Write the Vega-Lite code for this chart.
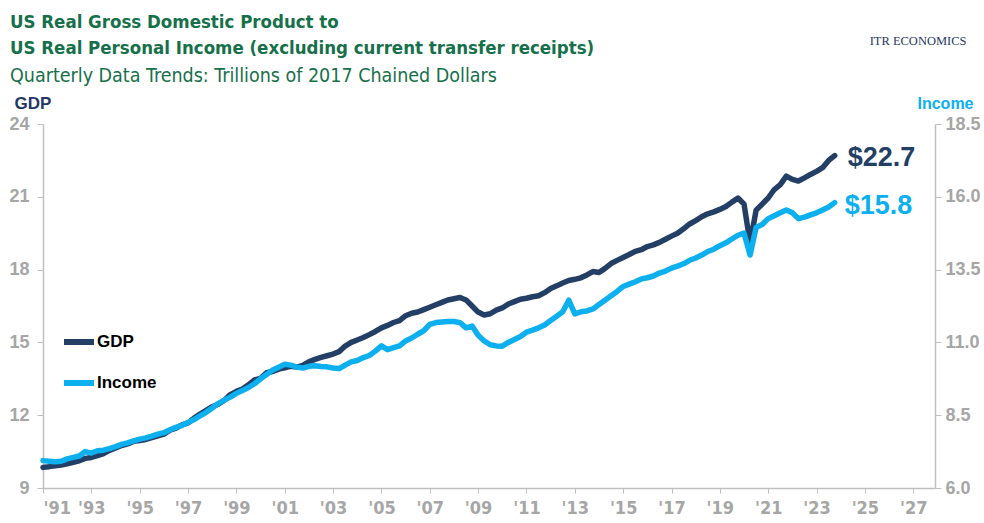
{
  "$schema": "https://vega.github.io/schema/vega-lite/v6.json",
  "width": 892,
  "height": 364,
  "autosize": "none",
  "padding": {"left": 43, "top": 124, "right": 49, "bottom": 35},
  "background": "white",
  "config": {"view": {"stroke": null}},
  "title": {
    "text": ["US Real Gross Domestic Product to", "US Real Personal Income (excluding current transfer receipts)"],
    "subtitle": "Quarterly Data Trends: Trillions of 2017 Chained Dollars",
    "anchor": "start",
    "frame": "group",
    "dx": -33,
    "offset": -50,
    "font": "Liberation Sans Narrow, DejaVu Sans Condensed, Roboto Condensed, Liberation Sans",
    "fontSize": 18.5,
    "fontWeight": "bold",
    "color": "#16704a",
    "lineHeight": 26,
    "subtitleFont": "Liberation Sans Narrow, DejaVu Sans Condensed, Roboto Condensed, Liberation Sans",
    "subtitleFontSize": 19.5,
    "subtitleFontWeight": "normal",
    "subtitleColor": "#16704a",
    "subtitlePadding": 9
  },
  "datasets": {
    "gdp": [
      {"t":1991,"s":"GDP","v":9.85},{"t":1991.25,"s":"GDP","v":9.88},{"t":1991.5,"s":"GDP","v":9.92},{"t":1991.75,"s":"GDP","v":9.95},
      {"t":1992,"s":"GDP","v":10.0},{"t":1992.25,"s":"GDP","v":10.06},{"t":1992.5,"s":"GDP","v":10.12},{"t":1992.75,"s":"GDP","v":10.22},
      {"t":1993,"s":"GDP","v":10.26},{"t":1993.25,"s":"GDP","v":10.33},{"t":1993.5,"s":"GDP","v":10.42},{"t":1993.75,"s":"GDP","v":10.55},
      {"t":1994,"s":"GDP","v":10.65},{"t":1994.25,"s":"GDP","v":10.75},{"t":1994.5,"s":"GDP","v":10.82},{"t":1994.75,"s":"GDP","v":10.92},
      {"t":1995,"s":"GDP","v":10.96},{"t":1995.25,"s":"GDP","v":11.0},{"t":1995.5,"s":"GDP","v":11.08},{"t":1995.75,"s":"GDP","v":11.15},
      {"t":1996,"s":"GDP","v":11.22},{"t":1996.25,"s":"GDP","v":11.38},{"t":1996.5,"s":"GDP","v":11.47},{"t":1996.75,"s":"GDP","v":11.6},
      {"t":1997,"s":"GDP","v":11.68},{"t":1997.25,"s":"GDP","v":11.88},{"t":1997.5,"s":"GDP","v":12.05},{"t":1997.75,"s":"GDP","v":12.2},
      {"t":1998,"s":"GDP","v":12.35},{"t":1998.25,"s":"GDP","v":12.45},{"t":1998.5,"s":"GDP","v":12.62},{"t":1998.75,"s":"GDP","v":12.85},
      {"t":1999,"s":"GDP","v":12.98},{"t":1999.25,"s":"GDP","v":13.08},{"t":1999.5,"s":"GDP","v":13.25},{"t":1999.75,"s":"GDP","v":13.45},
      {"t":2000,"s":"GDP","v":13.52},{"t":2000.25,"s":"GDP","v":13.75},{"t":2000.5,"s":"GDP","v":13.8},{"t":2000.75,"s":"GDP","v":13.9},
      {"t":2001,"s":"GDP","v":13.95},{"t":2001.25,"s":"GDP","v":14.02},{"t":2001.5,"s":"GDP","v":13.98},{"t":2001.75,"s":"GDP","v":14.05},
      {"t":2002,"s":"GDP","v":14.2},{"t":2002.25,"s":"GDP","v":14.3},{"t":2002.5,"s":"GDP","v":14.38},{"t":2002.75,"s":"GDP","v":14.45},
      {"t":2003,"s":"GDP","v":14.52},{"t":2003.25,"s":"GDP","v":14.62},{"t":2003.5,"s":"GDP","v":14.85},{"t":2003.75,"s":"GDP","v":15.0},
      {"t":2004,"s":"GDP","v":15.1},{"t":2004.25,"s":"GDP","v":15.2},{"t":2004.5,"s":"GDP","v":15.32},{"t":2004.75,"s":"GDP","v":15.45},
      {"t":2005,"s":"GDP","v":15.6},{"t":2005.25,"s":"GDP","v":15.7},{"t":2005.5,"s":"GDP","v":15.82},{"t":2005.75,"s":"GDP","v":15.9},
      {"t":2006,"s":"GDP","v":16.1},{"t":2006.25,"s":"GDP","v":16.2},{"t":2006.5,"s":"GDP","v":16.25},{"t":2006.75,"s":"GDP","v":16.35},
      {"t":2007,"s":"GDP","v":16.45},{"t":2007.25,"s":"GDP","v":16.55},{"t":2007.5,"s":"GDP","v":16.65},{"t":2007.75,"s":"GDP","v":16.75},
      {"t":2008,"s":"GDP","v":16.8},{"t":2008.25,"s":"GDP","v":16.85},{"t":2008.5,"s":"GDP","v":16.75},{"t":2008.75,"s":"GDP","v":16.5},
      {"t":2009,"s":"GDP","v":16.25},{"t":2009.25,"s":"GDP","v":16.13},{"t":2009.5,"s":"GDP","v":16.18},{"t":2009.75,"s":"GDP","v":16.33},
      {"t":2010,"s":"GDP","v":16.42},{"t":2010.25,"s":"GDP","v":16.58},{"t":2010.5,"s":"GDP","v":16.68},{"t":2010.75,"s":"GDP","v":16.78},
      {"t":2011,"s":"GDP","v":16.82},{"t":2011.25,"s":"GDP","v":16.88},{"t":2011.5,"s":"GDP","v":16.92},{"t":2011.75,"s":"GDP","v":17.05},
      {"t":2012,"s":"GDP","v":17.22},{"t":2012.25,"s":"GDP","v":17.33},{"t":2012.5,"s":"GDP","v":17.45},{"t":2012.75,"s":"GDP","v":17.55},
      {"t":2013,"s":"GDP","v":17.6},{"t":2013.25,"s":"GDP","v":17.66},{"t":2013.5,"s":"GDP","v":17.78},{"t":2013.75,"s":"GDP","v":17.92},
      {"t":2014,"s":"GDP","v":17.88},{"t":2014.25,"s":"GDP","v":18.05},{"t":2014.5,"s":"GDP","v":18.25},{"t":2014.75,"s":"GDP","v":18.38},
      {"t":2015,"s":"GDP","v":18.5},{"t":2015.25,"s":"GDP","v":18.62},{"t":2015.5,"s":"GDP","v":18.75},{"t":2015.75,"s":"GDP","v":18.82},
      {"t":2016,"s":"GDP","v":18.95},{"t":2016.25,"s":"GDP","v":19.02},{"t":2016.5,"s":"GDP","v":19.12},{"t":2016.75,"s":"GDP","v":19.25},
      {"t":2017,"s":"GDP","v":19.38},{"t":2017.25,"s":"GDP","v":19.5},{"t":2017.5,"s":"GDP","v":19.68},{"t":2017.75,"s":"GDP","v":19.88},
      {"t":2018,"s":"GDP","v":20.02},{"t":2018.25,"s":"GDP","v":20.18},{"t":2018.5,"s":"GDP","v":20.3},{"t":2018.75,"s":"GDP","v":20.38},
      {"t":2019,"s":"GDP","v":20.48},{"t":2019.25,"s":"GDP","v":20.6},{"t":2019.5,"s":"GDP","v":20.78},{"t":2019.75,"s":"GDP","v":20.95},
      {"t":2020,"s":"GDP","v":20.7},{"t":2020.25,"s":"GDP","v":19.1},{"t":2020.5,"s":"GDP","v":20.45},{"t":2020.75,"s":"GDP","v":20.7},
      {"t":2021,"s":"GDP","v":20.95},{"t":2021.25,"s":"GDP","v":21.3},{"t":2021.5,"s":"GDP","v":21.5},{"t":2021.75,"s":"GDP","v":21.85},
      {"t":2022,"s":"GDP","v":21.72},{"t":2022.25,"s":"GDP","v":21.65},{"t":2022.5,"s":"GDP","v":21.78},{"t":2022.75,"s":"GDP","v":21.92},
      {"t":2023,"s":"GDP","v":22.05},{"t":2023.25,"s":"GDP","v":22.2},{"t":2023.5,"s":"GDP","v":22.5},{"t":2023.75,"s":"GDP","v":22.7}
    ],
    "inc": [
      {"t":1991,"s":"Income","v":6.94},{"t":1991.25,"s":"Income","v":6.92},{"t":1991.5,"s":"Income","v":6.9},{"t":1991.75,"s":"Income","v":6.92},
      {"t":1992,"s":"Income","v":7.0},{"t":1992.25,"s":"Income","v":7.05},{"t":1992.5,"s":"Income","v":7.1},{"t":1992.75,"s":"Income","v":7.25},
      {"t":1993,"s":"Income","v":7.2},{"t":1993.25,"s":"Income","v":7.28},{"t":1993.5,"s":"Income","v":7.3},{"t":1993.75,"s":"Income","v":7.35},
      {"t":1994,"s":"Income","v":7.42},{"t":1994.25,"s":"Income","v":7.5},{"t":1994.5,"s":"Income","v":7.55},{"t":1994.75,"s":"Income","v":7.62},
      {"t":1995,"s":"Income","v":7.68},{"t":1995.25,"s":"Income","v":7.72},{"t":1995.5,"s":"Income","v":7.78},{"t":1995.75,"s":"Income","v":7.85},
      {"t":1996,"s":"Income","v":7.9},{"t":1996.25,"s":"Income","v":8.0},{"t":1996.5,"s":"Income","v":8.08},{"t":1996.75,"s":"Income","v":8.15},
      {"t":1997,"s":"Income","v":8.25},{"t":1997.25,"s":"Income","v":8.35},{"t":1997.5,"s":"Income","v":8.48},{"t":1997.75,"s":"Income","v":8.6},
      {"t":1998,"s":"Income","v":8.75},{"t":1998.25,"s":"Income","v":8.9},{"t":1998.5,"s":"Income","v":9.02},{"t":1998.75,"s":"Income","v":9.12},
      {"t":1999,"s":"Income","v":9.25},{"t":1999.25,"s":"Income","v":9.35},{"t":1999.5,"s":"Income","v":9.45},{"t":1999.75,"s":"Income","v":9.58},
      {"t":2000,"s":"Income","v":9.75},{"t":2000.25,"s":"Income","v":9.9},{"t":2000.5,"s":"Income","v":10.05},{"t":2000.75,"s":"Income","v":10.15},
      {"t":2001,"s":"Income","v":10.25},{"t":2001.25,"s":"Income","v":10.22},{"t":2001.5,"s":"Income","v":10.15},{"t":2001.75,"s":"Income","v":10.12},
      {"t":2002,"s":"Income","v":10.18},{"t":2002.25,"s":"Income","v":10.2},{"t":2002.5,"s":"Income","v":10.17},{"t":2002.75,"s":"Income","v":10.16},
      {"t":2003,"s":"Income","v":10.12},{"t":2003.25,"s":"Income","v":10.1},{"t":2003.5,"s":"Income","v":10.22},{"t":2003.75,"s":"Income","v":10.33},
      {"t":2004,"s":"Income","v":10.38},{"t":2004.25,"s":"Income","v":10.48},{"t":2004.5,"s":"Income","v":10.55},{"t":2004.75,"s":"Income","v":10.7},
      {"t":2005,"s":"Income","v":10.88},{"t":2005.25,"s":"Income","v":10.75},{"t":2005.5,"s":"Income","v":10.82},{"t":2005.75,"s":"Income","v":10.88},
      {"t":2006,"s":"Income","v":11.05},{"t":2006.25,"s":"Income","v":11.15},{"t":2006.5,"s":"Income","v":11.28},{"t":2006.75,"s":"Income","v":11.4},
      {"t":2007,"s":"Income","v":11.62},{"t":2007.25,"s":"Income","v":11.68},{"t":2007.5,"s":"Income","v":11.7},{"t":2007.75,"s":"Income","v":11.72},
      {"t":2008,"s":"Income","v":11.72},{"t":2008.25,"s":"Income","v":11.68},{"t":2008.5,"s":"Income","v":11.5},{"t":2008.75,"s":"Income","v":11.56},
      {"t":2009,"s":"Income","v":11.25},{"t":2009.25,"s":"Income","v":11.05},{"t":2009.5,"s":"Income","v":10.92},{"t":2009.75,"s":"Income","v":10.88},
      {"t":2010,"s":"Income","v":10.87},{"t":2010.25,"s":"Income","v":11.0},{"t":2010.5,"s":"Income","v":11.1},{"t":2010.75,"s":"Income","v":11.2},
      {"t":2011,"s":"Income","v":11.35},{"t":2011.25,"s":"Income","v":11.42},{"t":2011.5,"s":"Income","v":11.5},{"t":2011.75,"s":"Income","v":11.6},
      {"t":2012,"s":"Income","v":11.75},{"t":2012.25,"s":"Income","v":11.9},{"t":2012.5,"s":"Income","v":12.05},{"t":2012.75,"s":"Income","v":12.45},
      {"t":2013,"s":"Income","v":11.98},{"t":2013.25,"s":"Income","v":12.05},{"t":2013.5,"s":"Income","v":12.08},{"t":2013.75,"s":"Income","v":12.15},
      {"t":2014,"s":"Income","v":12.3},{"t":2014.25,"s":"Income","v":12.45},{"t":2014.5,"s":"Income","v":12.6},{"t":2014.75,"s":"Income","v":12.75},
      {"t":2015,"s":"Income","v":12.92},{"t":2015.25,"s":"Income","v":13.0},{"t":2015.5,"s":"Income","v":13.08},{"t":2015.75,"s":"Income","v":13.18},
      {"t":2016,"s":"Income","v":13.22},{"t":2016.25,"s":"Income","v":13.28},{"t":2016.5,"s":"Income","v":13.38},{"t":2016.75,"s":"Income","v":13.45},
      {"t":2017,"s":"Income","v":13.55},{"t":2017.25,"s":"Income","v":13.62},{"t":2017.5,"s":"Income","v":13.7},{"t":2017.75,"s":"Income","v":13.82},
      {"t":2018,"s":"Income","v":13.9},{"t":2018.25,"s":"Income","v":14.0},{"t":2018.5,"s":"Income","v":14.12},{"t":2018.75,"s":"Income","v":14.2},
      {"t":2019,"s":"Income","v":14.32},{"t":2019.25,"s":"Income","v":14.42},{"t":2019.5,"s":"Income","v":14.55},{"t":2019.75,"s":"Income","v":14.68},
      {"t":2020,"s":"Income","v":14.75},{"t":2020.25,"s":"Income","v":14.0},{"t":2020.5,"s":"Income","v":14.95},{"t":2020.75,"s":"Income","v":15.05},
      {"t":2021,"s":"Income","v":15.25},{"t":2021.25,"s":"Income","v":15.35},{"t":2021.5,"s":"Income","v":15.45},{"t":2021.75,"s":"Income","v":15.55},
      {"t":2022,"s":"Income","v":15.45},{"t":2022.25,"s":"Income","v":15.25},{"t":2022.5,"s":"Income","v":15.3},{"t":2022.75,"s":"Income","v":15.38},
      {"t":2023,"s":"Income","v":15.45},{"t":2023.25,"s":"Income","v":15.55},{"t":2023.5,"s":"Income","v":15.65},{"t":2023.75,"s":"Income","v":15.8}
    ],
    "logo": [{"t": 2027.2, "v": 27.4, "label": "ITR ECONOMICS"}]
  },
  "layer": [
    {
      "data": {"name": "gdp"},
      "layer": [
        {
          "mark": {"type": "line", "strokeWidth": 5.5, "strokeCap": "round", "strokeJoin": "round"},
          "encoding": {
            "x": {"field": "t", "type": "quantitative",
              "scale": {"domain": [1991, 2027.9], "nice": false, "zero": false},
              "axis": {
                "title": null, "grid": false,
                "values": [1991,1992,1993,1994,1995,1996,1997,1998,1999,2000,2001,2002,2003,2004,2005,2006,2007,2008,2009,2010,2011,2012,2013,2014,2015,2016,2017,2018,2019,2020,2021,2022,2023,2024,2025,2026,2027],
                "labelExpr": "datum.value % 2 == 1 ? \"'\" + substring(toString(datum.value), 2, 4) : ''",
                "labelOverlap": false,
                "labelFont": "Liberation Sans Narrow, DejaVu Sans Condensed, Roboto Condensed, Liberation Sans", "labelFontSize": 18, "labelFontWeight": "bold", "labelColor": "#a6a6a6",
                "labelPadding": 6, "tickSize": 5, "tickColor": "#bfbfbf", "domainColor": "#bfbfbf", "domainWidth": 1.5
              }
            },
            "y": {"field": "v", "type": "quantitative",
              "scale": {"domain": [9, 24], "nice": false, "zero": false},
              "axis": {
                "orient": "left", "grid": false, "values": [9, 12, 15, 18, 21, 24],
                "title": "GDP", "titleAngle": 0, "titleAlign": "left", "titleBaseline": "alphabetic",
                "titleX": -29, "titleY": -16, "titleFont": "Liberation Sans", "titleFontSize": 17, "titleFontWeight": "bold", "titleColor": "#1f3864",
                "labelFont": "Liberation Sans", "labelFontSize": 18, "labelFontWeight": "bold", "labelColor": "#a6a6a6",
                "labelPadding": 8, "tickSize": 6, "tickColor": "#bfbfbf", "domainColor": "#bfbfbf", "domainWidth": 1.5
              }
            },
            "color": {"field": "s", "type": "nominal",
              "scale": {"domain": ["GDP", "Income"], "range": ["#243f66", "#0cb0ef"]},
              "legend": {
                "title": null, "orient": "none", "legendX": 18, "legendY": 200,
                "symbolType": "stroke", "symbolSize": 900, "symbolStrokeWidth": 6,
                "labelFont": "Liberation Sans", "labelFontSize": 17, "labelFontWeight": "bold", "labelColor": "#000000",
                "labelOffset": 0, "rowPadding": 11, "padding": 0
              }
            }
          }
        },
        {
          "transform": [{"filter": "datum.t == 2023.75"}],
          "mark": {"type": "text", "align": "left", "baseline": "middle", "dx": 13, "dy": 2, "font": "Liberation Sans", "fontSize": 27, "fontWeight": "bold", "color": "#243f66"},
          "encoding": {
            "x": {"field": "t", "type": "quantitative"},
            "y": {"field": "v", "type": "quantitative"},
            "text": {"field": "v", "type": "quantitative", "format": "$.1f"}
          }
        }
      ]
    },
    {
      "data": {"name": "inc"},
      "layer": [
        {
          "mark": {"type": "line", "strokeWidth": 5.5, "strokeCap": "round", "strokeJoin": "round"},
          "encoding": {
            "x": {"field": "t", "type": "quantitative"},
            "y": {"field": "v", "type": "quantitative",
              "scale": {"domain": [6, 18.5], "nice": false, "zero": false},
              "axis": {
                "orient": "right", "grid": false, "values": [6, 8.5, 11, 13.5, 16, 18.5], "format": ".1f",
                "title": "Income", "titleAngle": 0, "titleAlign": "left", "titleBaseline": "alphabetic",
                "titleX": -18, "titleY": -16, "titleFont": "Liberation Sans", "titleFontSize": 16, "titleFontWeight": "bold", "titleColor": "#0cb0ef",
                "labelFont": "Liberation Sans", "labelFontSize": 18, "labelFontWeight": "bold", "labelColor": "#a6a6a6",
                "labelPadding": 4, "tickSize": 6, "tickColor": "#bfbfbf", "domainColor": "#bfbfbf", "domainWidth": 1.5
              }
            },
            "color": {"field": "s", "type": "nominal"}
          }
        },
        {
          "transform": [{"filter": "datum.t == 2023.75"}],
          "mark": {"type": "text", "align": "left", "baseline": "middle", "dx": 10, "dy": 3, "font": "Liberation Sans", "fontSize": 27, "fontWeight": "bold", "color": "#0cb0ef"},
          "encoding": {
            "x": {"field": "t", "type": "quantitative"},
            "y": {"field": "v", "type": "quantitative"},
            "text": {"field": "v", "type": "quantitative", "format": "$.1f"}
          }
        }
      ]
    },
    {
      "data": {"name": "logo"},
      "mark": {"type": "text", "align": "center", "baseline": "middle", "font": "Liberation Serif", "fontSize": 12.5, "color": "#1f3864"},
      "encoding": {
        "x": {"field": "t", "type": "quantitative"},
        "y": {"field": "v", "type": "quantitative", "scale": {"domain": [9, 24]}, "axis": null},
        "text": {"field": "label"}
      }
    }
  ],
  "resolve": {"scale": {"y": "independent"}}
}
